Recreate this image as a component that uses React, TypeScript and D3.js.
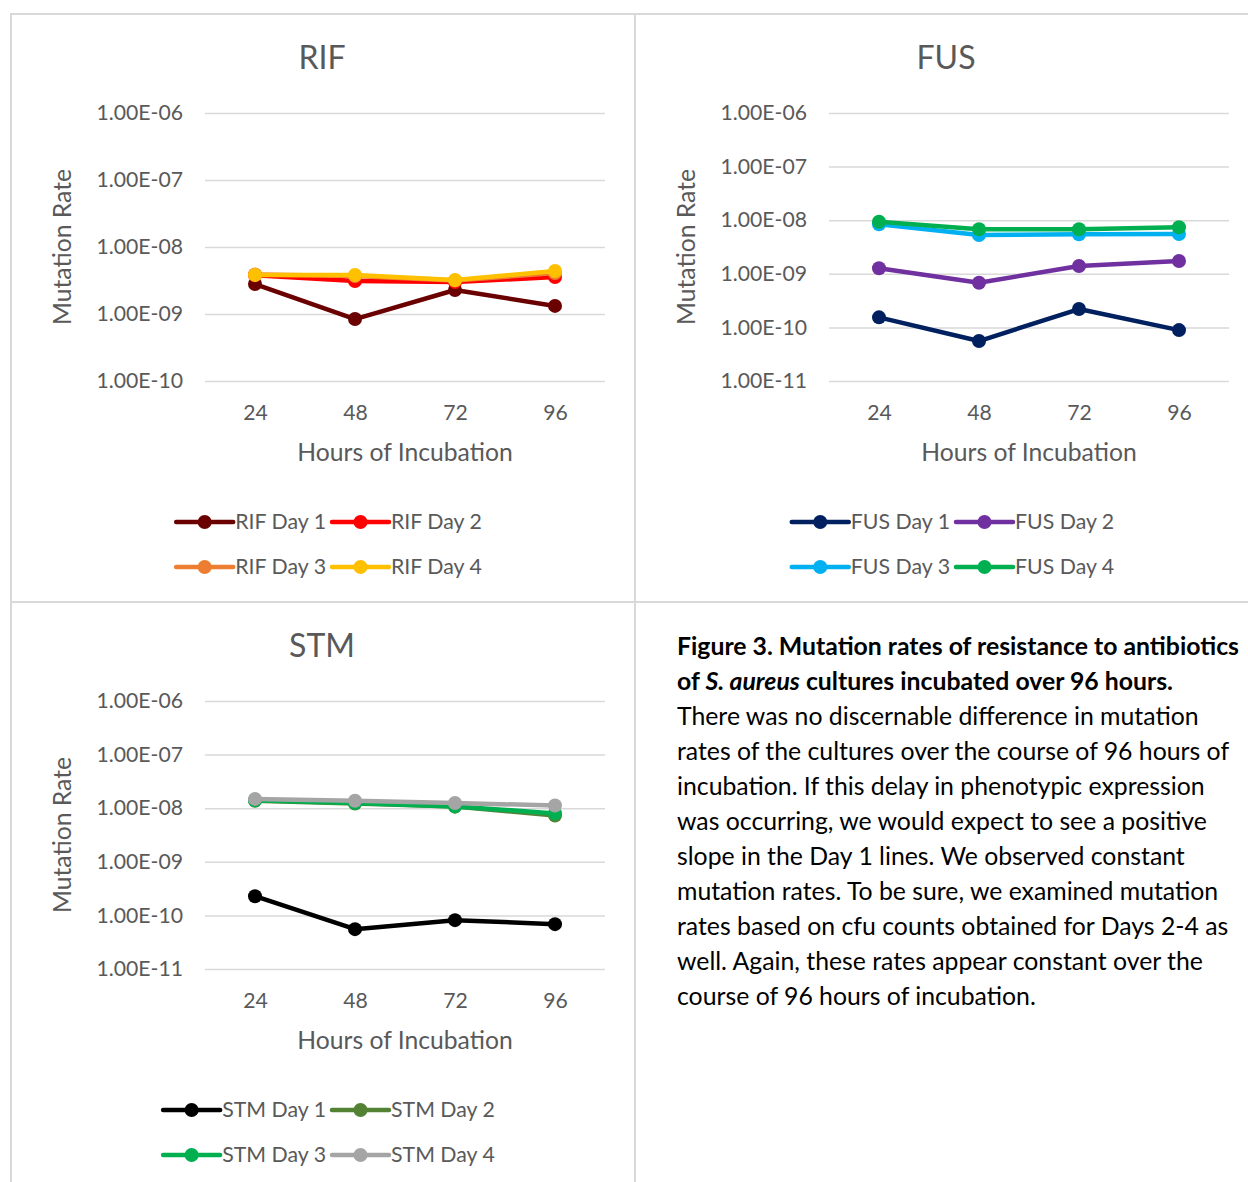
import { useEffect, useRef } from 'react';
import * as d3 from 'd3';

const hours = ['24', '48', '72', '96'];

const rifNames = ['RIF Day 1', 'RIF Day 2', 'RIF Day 3', 'RIF Day 4'];
const rifColors = ['#6B0000', '#FF0000', '#ED7D31', '#FFC000'];
const rifDay1 = [2.8e-9, 8.4e-10, 2.28e-9, 1.32e-9];
const rifDay2 = [3.8e-9, 3.1e-9, 3.0e-9, 3.56e-9];
const rifDay3 = [3.9e-9, 3.7e-9, 3.15e-9, 4.1e-9];
const rifDay4 = [3.82e-9, 3.82e-9, 3.21e-9, 4.38e-9];

const fusNames = ['FUS Day 1', 'FUS Day 2', 'FUS Day 3', 'FUS Day 4'];
const fusColors = ['#002060', '#7030A0', '#00B0F0', '#00B050'];
const fusDay1 = [1.54e-10, 5.57e-11, 2.2e-10, 8.9e-11];
const fusDay2 = [1.27e-9, 6.82e-10, 1.4e-9, 1.73e-9];
const fusDay3 = [8.38e-9, 5.3e-9, 5.46e-9, 5.53e-9];
const fusDay4 = [9.38e-9, 6.76e-9, 6.76e-9, 7.38e-9];

const stmNames = ['STM Day 1', 'STM Day 2', 'STM Day 3', 'STM Day 4'];
const stmColors = ['#000000', '#548235', '#00B050', '#A5A5A5'];
const stmDay1 = [2.28e-10, 5.54e-11, 8.15e-11, 6.86e-11];
const stmDay2 = [1.38e-8, 1.22e-8, 1.07e-8, 7.3e-9];
const stmDay3 = [1.4e-8, 1.25e-8, 1.08e-8, 8.0e-9];
const stmDay4 = [1.49e-8, 1.38e-8, 1.25e-8, 1.12e-8];

const rifTicks = [1e-10, 1e-9, 1e-8, 1e-7, 1e-6];
const fusTicks = [1e-11, 1e-10, 1e-9, 1e-8, 1e-7, 1e-6];
const stmTicks = [1e-11, 1e-10, 1e-9, 1e-8, 1e-7, 1e-6];

const captionBold1 = 'Figure 3. Mutation rates of resistance to antibiotics';
const captionBold2 = ['of ', 'S. aureus', ' cultures incubated over 96 hours.'];
const captionLines = [
  'There was no discernable difference in mutation',
  'rates of the cultures over the course of 96 hours of',
  'incubation. If this delay in phenotypic expression',
  'was occurring, we would expect to see a positive',
  'slope in the Day 1 lines. We observed constant',
  'mutation rates. To be sure, we examined mutation',
  'rates based on cfu counts obtained for Days 2-4 as',
  'well. Again, these rates appear constant over the',
  'course of 96 hours of incubation.',
];

const FONT = 'Lato, "Open Sans", sans-serif';
const GREY = '#595959';

const drawChart = (svg, ox, oy, title, ticks, names, colors, series) => {
  const g = svg.append('g').attr('transform', `translate(${ox},${oy})`);

  g.append('text')
    .attr('x', 311)
    .attr('y', 44)
    .attr('text-anchor', 'middle')
    .attr('dy', '0.35em')
    .style('font-size', '32px')
    .attr('fill', GREY)
    .text(title);

  const x = d3.scalePoint().domain(hours).range([244, 544]);
  const y = d3.scaleLog()
    .domain([d3.min(ticks), d3.max(ticks)])
    .range([367, 99]);

  const yAxis = g.append('g')
    .attr('transform', 'translate(194,0)')
    .call(d3.axisLeft(y).tickValues(ticks).tickSize(-400).tickPadding(22)
      .tickFormat(d => `1.00E-${String(Math.round(-Math.log10(d))).padStart(2, '0')}`));
  yAxis.select('.domain').remove();
  yAxis.selectAll('line').attr('stroke', '#d9d9d9').attr('stroke-width', 1.5);
  yAxis.selectAll('text').attr('fill', GREY).style('font-size', '21.2px').style('font-family', FONT);

  const xAxis = g.append('g')
    .attr('transform', 'translate(0,367)')
    .call(d3.axisBottom(x).tickSize(0).tickPadding(23.5));
  xAxis.select('.domain').remove();
  xAxis.selectAll('text').attr('fill', GREY).style('font-size', '21.2px').style('font-family', FONT);

  g.append('text')
    .attr('x', 394)
    .attr('y', 438)
    .attr('text-anchor', 'middle')
    .attr('dy', '0.35em')
    .style('font-size', '24.7px')
    .attr('fill', GREY)
    .text('Hours of Incubation');

  g.append('text')
    .attr('transform', `translate(51,${(99 + 367) / 2}) rotate(-90)`)
    .attr('text-anchor', 'middle')
    .attr('dy', '0.35em')
    .style('font-size', '24.7px')
    .attr('fill', GREY)
    .text('Mutation Rate');

  const line = d3.line().x((d, i) => x(hours[i])).y(d => y(d));

  series.forEach((s, k) => {
    g.append('path')
      .attr('d', line(s))
      .attr('fill', 'none')
      .attr('stroke', colors[k])
      .attr('stroke-width', 4.5)
      .attr('stroke-linejoin', 'round');
    g.selectAll(null)
      .data(s)
      .join('circle')
      .attr('cx', (d, i) => x(hours[i]))
      .attr('cy', d => y(d))
      .attr('r', 7)
      .attr('fill', colors[k]);
  });

  // legend: 2 x 2 grid, columns sized from text widths, centred in the cell
  const leg = g.append('g');
  const items = names.map((n, k) => {
    const it = leg.append('g');
    it.append('line').attr('x1', 0).attr('x2', 57).attr('stroke', colors[k])
      .attr('stroke-width', 4.5).attr('stroke-linecap', 'round');
    it.append('circle').attr('cx', 28.5).attr('r', 7).attr('fill', colors[k]);
    const t = it.append('text').attr('x', 59).attr('dy', '0.35em')
      .style('font-size', '21.3px').attr('fill', GREY).text(n);
    return { it, w: 59 + t.node().getComputedTextLength() };
  });
  const col0 = Math.max(items[0].w, items[2].w) + 6;
  const col1 = Math.max(items[1].w, items[3].w);
  const start = 318 - (col0 + col1) / 2;
  items.forEach((d, k) => {
    const cx = start + (k % 2 === 0 ? 0 : col0);
    const cy = k < 2 ? 508 : 553;
    d.it.attr('transform', `translate(${cx},${cy})`);
  });
};

const App = () => {
  const svgRef = useRef();

  useEffect(() => {
    const svg = d3.select(svgRef.current);
    svg.selectAll('*').remove();
    svg.style('font-family', FONT);

    const border = svg.append('g').attr('stroke', '#d9d9d9').attr('stroke-width', 2);
    border.append('line').attr('x1', 10).attr('x2', 1248).attr('y1', 14).attr('y2', 14);
    border.append('line').attr('x1', 11).attr('x2', 11).attr('y1', 14).attr('y2', 1182);
    border.append('line').attr('x1', 635).attr('x2', 635).attr('y1', 14).attr('y2', 1182);
    border.append('line').attr('x1', 11).attr('x2', 1248).attr('y1', 602).attr('y2', 602);

    drawChart(svg, 11, 14, 'RIF', rifTicks, rifNames, rifColors, [rifDay1, rifDay2, rifDay3, rifDay4]);
    drawChart(svg, 635, 14, 'FUS', fusTicks, fusNames, fusColors, [fusDay1, fusDay2, fusDay3, fusDay4]);
    drawChart(svg, 11, 602, 'STM', stmTicks, stmNames, stmColors, [stmDay1, stmDay2, stmDay3, stmDay4]);

    const cap = svg.append('g').style('font-size', '24.8px').attr('fill', '#000');
    cap.append('text').attr('x', 677).attr('y', 646).attr('dy', '0.35em')
      .style('font-weight', 'bold').text(captionBold1);
    const t2 = cap.append('text').attr('x', 677).attr('y', 681).attr('dy', '0.35em')
      .style('font-weight', 'bold');
    t2.append('tspan').text(captionBold2[0]);
    t2.append('tspan').style('font-style', 'italic').text(captionBold2[1]);
    t2.append('tspan').text(captionBold2[2]);
    captionLines.forEach((l, i) => {
      cap.append('text').attr('x', 677).attr('y', 716 + i * 35).attr('dy', '0.35em').text(l);
    });
  }, []);

  return (
    <svg ref={svgRef} width="1248" height="1182"
      style={{ position: 'absolute', left: 0, top: 0, background: '#fff' }}></svg>
  );
};

export default App;
